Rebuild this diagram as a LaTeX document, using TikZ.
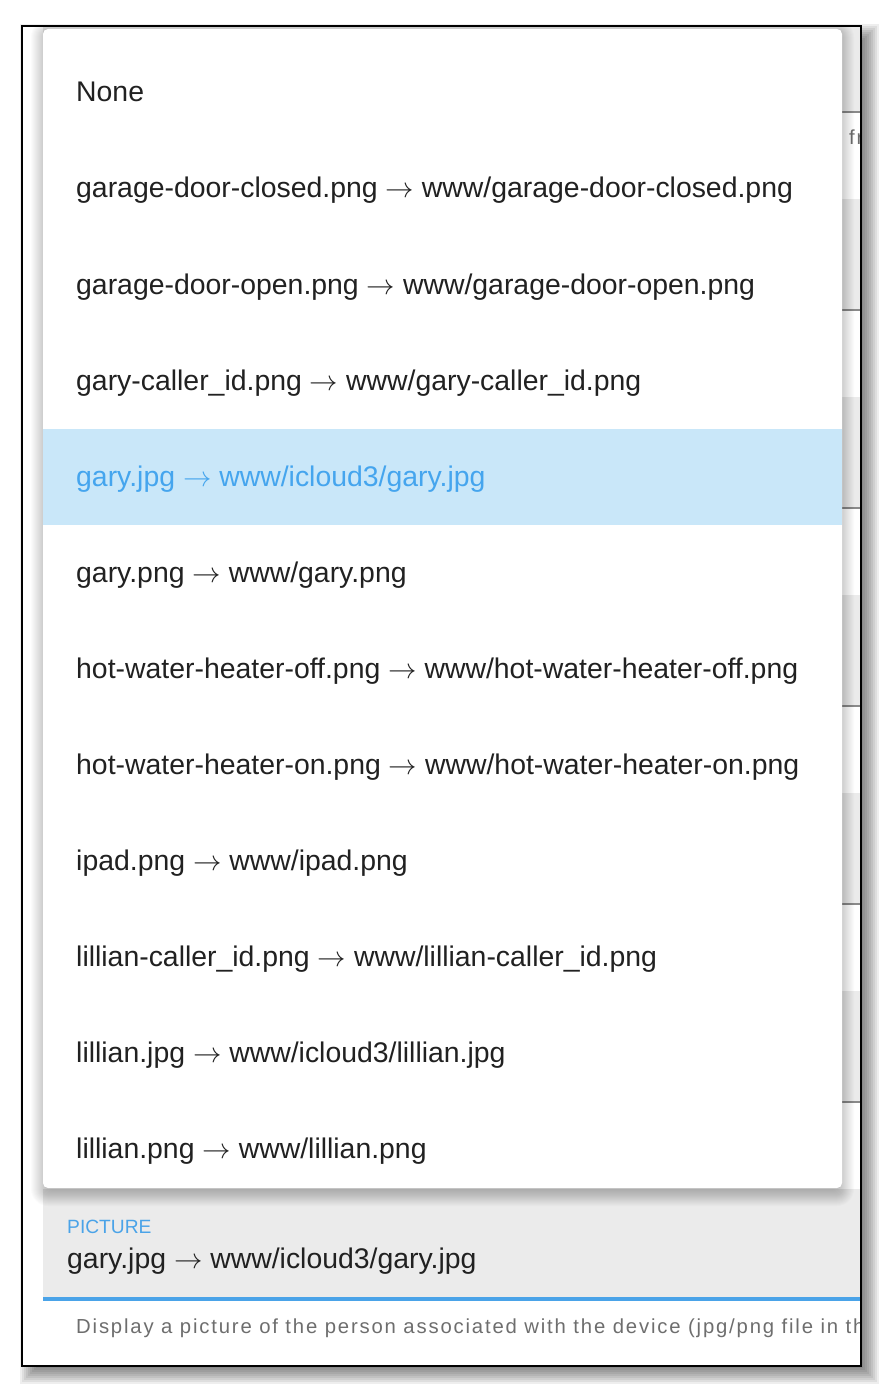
\documentclass[tikz,border=0pt]{standalone}
\usepackage{fix-cm}
\usepackage{fontspec}
\setmainfont{Liberation Sans}
\newfontfamily\helperfont[LetterSpace=9]{Liberation Sans}
\definecolor{txt}{HTML}{212121}
\definecolor{fieldbg}{HTML}{EBEBEB}
\definecolor{linegray}{HTML}{8A8A8A}
\definecolor{accent}{HTML}{4AA3E8}
\definecolor{hlbg}{HTML}{C9E7F9}
\definecolor{hltxt}{HTML}{45A5EE}
\definecolor{helpgray}{HTML}{6E6E6E}
\newcommand{\arr}{$\rightarrow$}
\begin{document}
\begin{tikzpicture}[x=1pt,y=-1pt,
  menuitem/.style={anchor=base west, inner sep=0pt, font=\fontsize{28.4}{32}\selectfont, text=txt},
  hlitem/.style={menuitem, text=hltxt},
  helper/.style={anchor=base west, inner sep=0pt, font=\helperfont\fontsize{20.3}{24}\selectfont, text=helpgray},
  fieldlabel/.style={anchor=base west, inner sep=0pt, font=\fontsize{19.2}{24}\selectfont, text=accent},
  fieldvalue/.style={menuitem}]
\useasboundingbox (0,0) rectangle (883,1388);
% shadow of the outer frame
\foreach \e in {-12,-10,...,10} {
  \fill[black, opacity=0.065] ({30-(\e)},{34-(\e)}) rectangle ({869+\e},{1374+\e});
}
\fill[white] (22,26) rectangle (861,1366);
\begin{scope}
  \clip (22,26) rectangle (861,1366);
  % background form fields
  \foreach \k in {0,...,5} {
    \fill[fieldbg] (43,{1+198*\k}) rectangle (900,{112+198*\k});
    \draw[linegray, line width=1.5] (43,{112+198*\k}) -- (900,{112+198*\k});
  }
  \fill[fieldbg] (43,1189) rectangle (900,1299);
  \fill[accent] (43,1297) rectangle (900,1301);
  \node[helper] (help0) at (849,145) {fr};
  \node[helper] (help6) at (76,1333) {Display a picture of the person associated with the device (jpg/png file in the www directory)};
  \node[fieldlabel] (plabel) at (67,1233) {PICTURE};
  \node[fieldvalue] (pvalue) at (67,1268) {gary.jpg \arr{} www/icloud3/gary.jpg};
  % shadow of the dropdown menu
  \foreach \e in {-4,...,12} {
    \fill[black, opacity=0.017, rounded corners={5+max(\e,0)}] ({43-(\e)},{32-(\e)}) rectangle ({842+\e},{1194+\e});
  }
  % dropdown menu
  \fill[white, rounded corners=5] (43,29) rectangle (842,1188);
  \fill[hlbg] (43,429) rectangle (842,525);
  \node[menuitem] (i0) at (76,102) {None};
  \node[menuitem] (i1) at (76,198) {garage-door-closed.png \arr{} www/garage-door-closed.png};
  \node[menuitem] (i2) at (76,294) {garage-door-open.png \arr{} www/garage-door-open.png};
  \node[menuitem] (i3) at (76,390) {gary-caller\_id.png \arr{} www/gary-caller\_id.png};
  \node[hlitem]   (i4) at (76,486) {gary.jpg \arr{} www/icloud3/gary.jpg};
  \node[menuitem] (i5) at (76,582) {gary.png \arr{} www/gary.png};
  \node[menuitem] (i6) at (76,678) {hot-water-heater-off.png \arr{} www/hot-water-heater-off.png};
  \node[menuitem] (i7) at (76,774) {hot-water-heater-on.png \arr{} www/hot-water-heater-on.png};
  \node[menuitem] (i8) at (76,870) {ipad.png \arr{} www/ipad.png};
  \node[menuitem] (i9) at (76,966) {lillian-caller\_id.png \arr{} www/lillian-caller\_id.png};
  \node[menuitem] (i10) at (76,1062) {lillian.jpg \arr{} www/icloud3/lillian.jpg};
  \node[menuitem] (i11) at (76,1158) {lillian.png \arr{} www/lillian.png};
\end{scope}
\draw[black, line width=2.2] (22,26) rectangle (861,1366);
\end{tikzpicture}
\end{document}
